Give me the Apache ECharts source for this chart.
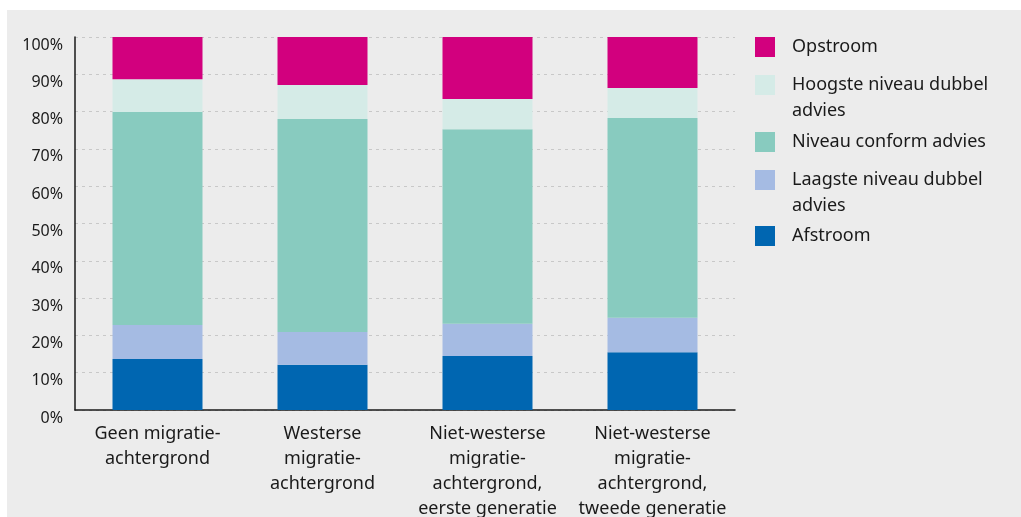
<!DOCTYPE html>
<html><head><meta charset="utf-8">
<script src="https://cdn.jsdelivr.net/npm/echarts@6/dist/echarts.min.js"></script>
<style>
html,body{margin:0;padding:0;background:#fff;}
#bg{position:absolute;left:7px;top:10px;width:1014px;height:507px;background:#ececec;}
#chart{position:absolute;left:0;top:0;width:1021px;height:517px;}
</style></head>
<body><div id="bg"></div><div id="chart"></div>
<script>
const categories = ["Geen migratie-\nachtergrond", "Westerse\nmigratie-\nachtergrond", "Niet-westerse\nmigratie-\nachtergrond,\neerste generatie", "Niet-westerse\nmigratie-\nachtergrond,\ntweede generatie"];
const afstroom = [13.7, 12.1, 14.5, 15.5];
const laagste = [9.1, 8.8, 8.6, 9.2];
const conform = [57.1, 57.1, 52.2, 53.6];
const hoogste = [8.8, 9.1, 8.1, 8.0];
const opstroom = [11.3, 12.9, 16.6, 13.7];
const yTicks = [0,10,20,30,40,50,60,70,80,90,100];

const FONT = "Noto Sans";
const names = ["Afstroom","Laagste niveau dubbel advies","Niveau conform advies","Hoogste niveau dubbel advies","Opstroom"];
const labels = {"Afstroom":"Afstroom","Laagste niveau dubbel advies":" \nLaagste niveau dubbel\nadvies","Niveau conform advies":"Niveau conform advies","Hoogste niveau dubbel advies":" \nHoogste niveau dubbel\nadvies","Opstroom":"Opstroom"};
const colors = ["#0066b1","#a5bbe3","#88cbbf","#d5ebe7","#d2007e"];
const data = [afstroom, laagste, conform, hoogste, opstroom];

function mkLegend(name, top){
  return {
    data:[name], left:755, top:top, orient:'vertical', itemWidth:20, itemHeight:20, itemGap:0,
    icon:'rect', selectedMode:false, padding:0,
    formatter: function(n){return labels[n];},
    textStyle:{fontFamily:FONT, fontSize:18, color:'#1a1a1a', lineHeight:26, padding:[4,0,0,12]}
  };
}

const chart = echarts.init(document.getElementById('chart'), null, {renderer:'canvas'});
chart.setOption({
  animation:false,
  backgroundColor:'transparent',
  grid:{left:75, right:286, top:37, bottom:107, containLabel:false, outerBoundsMode:'none'},
  legend:[
    mkLegend("Opstroom", 32),
    mkLegend("Hoogste niveau dubbel advies", 44),
    mkLegend("Niveau conform advies", 127),
    mkLegend("Laagste niveau dubbel advies", 139),
    mkLegend("Afstroom", 221)
  ],
  xAxis:{type:'category', data:categories,
    axisLine:{show:true, lineStyle:{color:'#1a1a1a', width:1.5}},
    axisTick:{show:false},
    axisLabel:{fontFamily:FONT, fontSize:18, color:'#1a1a1a', lineHeight:25, margin:11, interval:0, align:'center'}
  },
  yAxis:{type:'value', min:0, max:100, interval:10,
    axisLine:{show:true, lineStyle:{color:'#1a1a1a', width:1.5}},
    axisTick:{show:false},
    splitLine:{show:true, lineStyle:{color:'#c8c8c8', type:[3,4], width:1}},
    axisLabel:{fontFamily:FONT, fontSize:16, color:'#1a1a1a', margin:12, verticalAlign:'top', lineHeight:16,
      formatter:function(v){return yTicks.indexOf(v)>=0 ? v+'%' : '';}}
  },
  series: names.map((n,i)=>({
    name:n, type:'bar', stack:'total', data:data[i], barWidth:90,
    itemStyle:{color:colors[i]}
  }))
});
</script></body></html>
